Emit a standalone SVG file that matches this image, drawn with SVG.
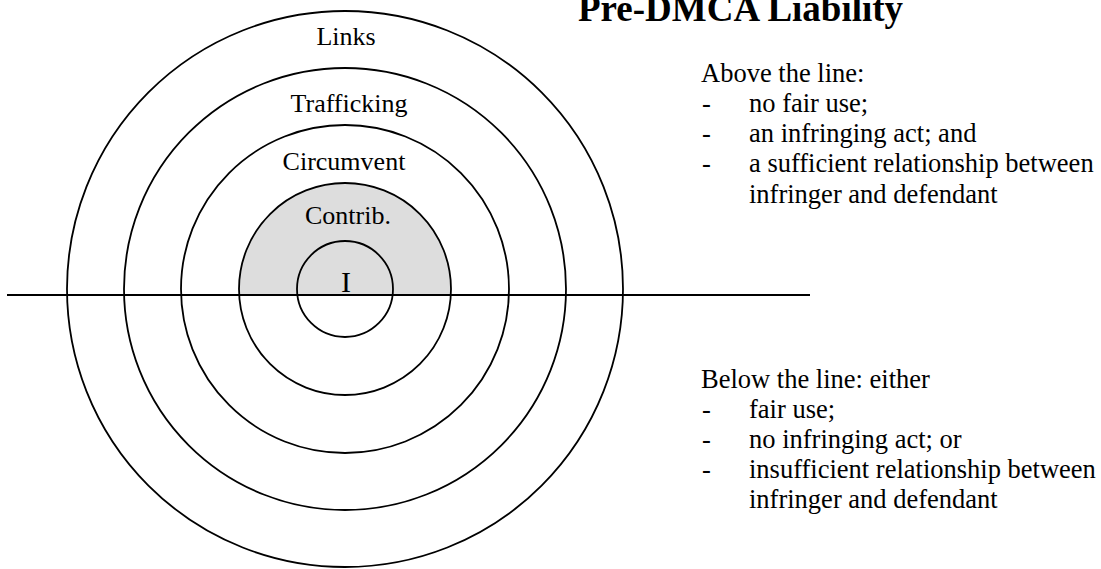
<svg xmlns="http://www.w3.org/2000/svg" width="1101" height="569" viewBox="0 0 1101 569">
<style>
.ring{fill:none;stroke:#000;stroke-width:1.8}
.lbl{font-family:"Liberation Serif","Times New Roman",serif;font-size:26px;fill:#000;text-anchor:middle}
.txt{font-family:"Liberation Serif","Times New Roman",serif;font-size:26.5px;fill:#000}
.title{font-family:"Liberation Serif","Times New Roman",serif;font-size:37px;font-weight:bold;fill:#000}
</style>
<rect width="1101" height="569" fill="#fff"/>
<g id="shade">
<path d="M239.17 295 A106 106 0 1 1 450.83 295 Z" fill="#dddddd"/>
</g>
<g id="rings">
<circle id="ring-links" class="ring" cx="345" cy="289" r="278"/>
<circle id="ring-trafficking" class="ring" cx="345" cy="289" r="221"/>
<circle id="ring-circumvent" class="ring" cx="345" cy="289" r="164"/>
<circle id="ring-contrib" class="ring" cx="345" cy="289" r="106"/>
<circle id="ring-i" class="ring" cx="345" cy="289" r="48"/>
</g>
<g id="connectors">
<line x1="7" y1="295" x2="810" y2="295" stroke="#000" stroke-width="2"/>
</g>
<g id="labels">
<text class="lbl" x="346" y="45">Links</text>
<text class="lbl" x="349" y="112">Trafficking</text>
<text class="lbl" x="344" y="170">Circumvent</text>
<text class="lbl" x="348" y="224">Contrib.</text>
<text class="lbl" x="346" y="292" style="font-size:30px">I</text>
</g>
<g id="title">
<text class="title" x="578" y="21">Pre-DMCA Liability</text>
</g>
<g id="above">
<text class="txt" x="701" y="82">Above the line:</text>
<text class="txt" x="702" y="112">-</text><text class="txt" x="749" y="112">no fair use;</text>
<text class="txt" x="702" y="142">-</text><text class="txt" x="749" y="142">an infringing act; and</text>
<text class="txt" x="702" y="172">-</text><text class="txt" x="749" y="172">a sufficient relationship between</text>
<text class="txt" x="749" y="203">infringer and defendant</text>
</g>
<g id="below">
<text class="txt" x="701" y="388">Below the line: either</text>
<text class="txt" x="702" y="418">-</text><text class="txt" x="749" y="418">fair use;</text>
<text class="txt" x="702" y="448">-</text><text class="txt" x="749" y="448">no infringing act; or</text>
<text class="txt" x="702" y="478">-</text><text class="txt" x="749" y="478">insufficient relationship between</text>
<text class="txt" x="749" y="508">infringer and defendant</text>
</g>
</svg>
